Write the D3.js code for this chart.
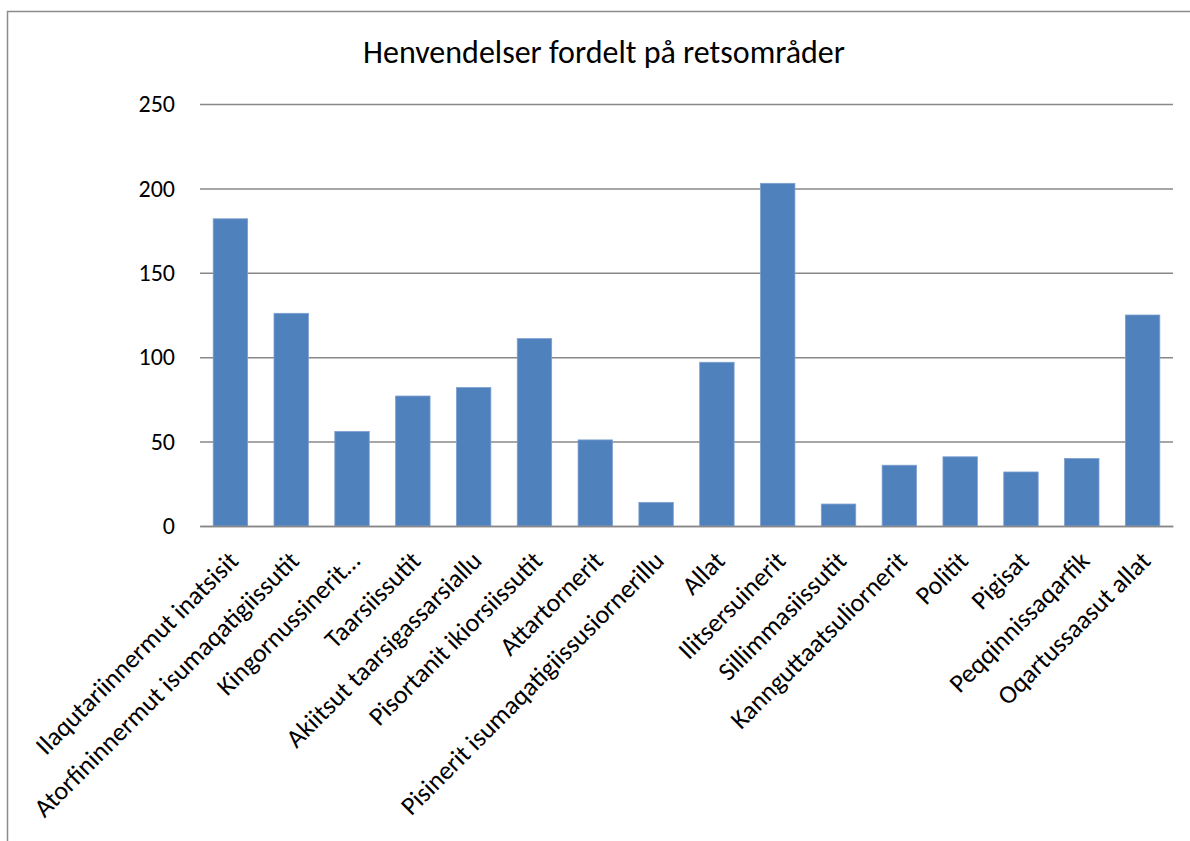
<!DOCTYPE html>
<html>
<head>
<meta charset="utf-8">
<script src="https://cdn.jsdelivr.net/npm/d3@7"></script>
<style>
  body { margin: 0; background: #fff; }
  text { font-family: Carlito, Calibri, Lato, sans-serif; fill: #000; }
</style>
</head>
<body>
<div id="chart"></div>
<script>
// data
var categories = [
    "Ilaqutariinnermut inatsisit",
    "Atorfininnermut isumaqatigiissutit",
    "Kingornussinerit…",
    "Taarsiissutit",
    "Akiitsut taarsigassarsiallu",
    "Pisortanit ikiorsiissutit",
    "Attartornerit",
    "Pisinerit isumaqatigiissusiornerillu",
    "Allat",
    "Ilitsersuinerit",
    "Sillimmasiissutit",
    "Kannguttaatsuliornerit",
    "Politit",
    "Pigisat",
    "Peqqinnissaqarfik",
    "Oqartussaasut allat"
];
var values = [182, 126, 56, 77, 82, 111, 51, 14, 97, 203, 13, 36, 41, 32, 40, 125];
var yTicks = [0, 50, 100, 150, 200, 250];
var title = "Henvendelser fordelt på retsområder";

var width = 1190, height = 841;
var plot = { left: 200, right: 1173, top: 104, bottom: 526 };

var svg = d3.select("#chart")
            .append("svg")
            .attr("width", width)
            .attr("height", height);

// outer frame (only left/top edges visible in the picture)
svg.append("rect")
   .attr("x", 7.5).attr("y", 11.5)
   .attr("width", 1300).attr("height", 1000)
   .attr("fill", "none")
   .attr("stroke", "#8c8c8c")
   .attr("stroke-width", 1.5);

var x = d3.scaleBand()
          .domain(categories)
          .range([plot.left, plot.right])
          .paddingInner(0.434)
          .paddingOuter(0.217);

var y = d3.scaleLinear()
          .domain([0, 250])
          .range([plot.bottom, plot.top]);

// gridlines + y labels
var yAxis = d3.axisLeft(y)
              .tickValues(yTicks)
              .tickSize(-(plot.right - plot.left))
              .tickPadding(25)
              .tickFormat(d3.format("d"));

var gy = svg.append("g")
            .attr("transform", "translate(" + plot.left + ",0)")
            .call(yAxis);
gy.select(".domain").remove();
gy.selectAll(".tick line")
  .attr("stroke", "#888")
  .attr("stroke-width", 1.5);
gy.selectAll(".tick text")
  .style("font-size", "24px")
  .attr("fill", "#000");

// bars
svg.append("g")
   .selectAll("rect")
   .data(values)
   .enter()
   .append("rect")
   .attr("x", function(d, i) { return x(categories[i]); })
   .attr("y", function(d) { return y(d); })
   .attr("width", x.bandwidth())
   .attr("height", function(d) { return y(0) - y(d); })
   .attr("fill", "#4f81bd")
   .attr("stroke", "#7d9fd0")
   .attr("stroke-width", 0.8);

// x axis line
var xAxis = d3.axisBottom(x).tickSize(0).tickPadding(0);
var gx = svg.append("g")
            .attr("transform", "translate(0," + plot.bottom + ")")
            .call(xAxis);
gx.select(".domain")
  .attr("stroke", "#888")
  .attr("stroke-width", 1.5);
gx.selectAll(".tick text")
  .style("font-size", "26px")
  .attr("text-anchor", "end")
  .attr("dy", "0.35em")
  .attr("transform", "translate(3,30) rotate(-45)");

// title
svg.append("text")
   .attr("x", 604)
   .attr("y", 63)
   .attr("text-anchor", "middle")
   .style("font-size", "32px")
   .text(title);
</script>
</body>
</html>
